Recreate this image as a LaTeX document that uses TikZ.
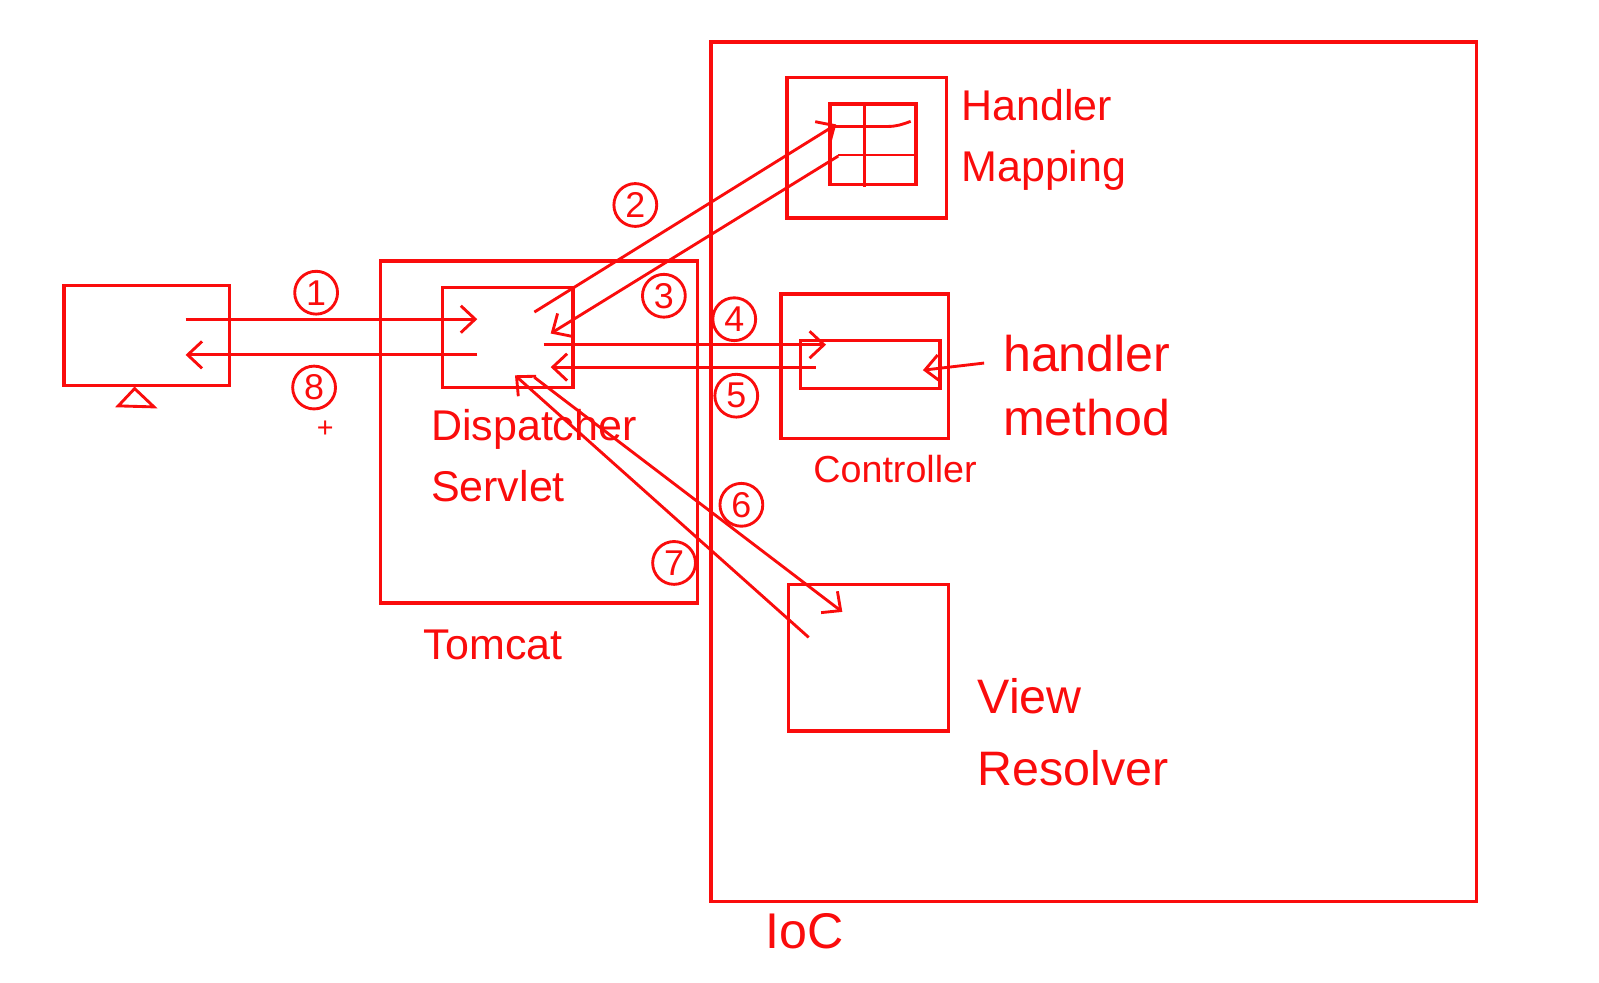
\documentclass[tikz,border=0pt]{standalone}
\usepackage{fontspec}
\setmainfont{Liberation Sans}
\usetikzlibrary{arrows.meta, calc}
\definecolor{ink}{RGB}{250, 12, 12}

\begin{document}
\begin{tikzpicture}[font=\fontsize{12}{17}\selectfont, text=ink,
    box/.style={draw=ink, line width=1pt, rectangle, inner sep=0pt},
    flow/.style={draw=ink, line width=0.8pt, -{Straight Barb[length=4pt,width=7.5pt]}},
    num/.style={draw=ink, line width=0.8pt, circle, minimum size=0.42cm, inner sep=0pt, font=\normalsize},
    lbl/.style={anchor=west, align=left, inner sep=0pt}]
        \useasboundingbox (0,0) rectangle (15.68,-9.63);
        % boxes
        \node[box, minimum width=1.62cm, minimum height=0.98cm] (client) at (1.44,-3.29) {};
        \node[box, minimum width=3.11cm, minimum height=3.35cm] (tomcat) at (5.285,-4.235) {};
        \node[box, minimum width=1.28cm, minimum height=0.98cm] (dispatcher) at (4.98,-3.31) {};
        \node[box, minimum width=7.51cm, minimum height=8.43cm] (ioc) at (10.725,-4.625) {};
        \node[box, minimum width=1.56cm, minimum height=1.38cm] (mapping) at (8.50,-1.45) {};
        \node[box, minimum width=0.84cm, minimum height=0.79cm] (table) at (8.56,-1.415) {};
        \node[box, minimum width=1.64cm, minimum height=1.42cm] (controller) at (8.48,-3.59) {};
        \node[box, minimum width=1.37cm, minimum height=0.47cm] (method) at (8.535,-3.575) {};
        \node[box, minimum width=1.57cm, minimum height=1.44cm] (resolver) at (8.515,-6.45) {};
        % monitor stand
        \draw[ink, line width=0.8pt] (1.32,-3.81) -- (1.16,-3.98) -- (1.51,-3.99) -- cycle;
        % table grid
        \draw[ink, line width=0.8pt] (8.48,-1.02) -- (8.48,-1.83);
        \draw[ink, line width=0.8pt] (8.19,-1.24) -- (8.70,-1.24) to[out=0, in=200] (8.93,-1.19);
        \draw[ink, line width=0.8pt] (8.22,-1.52) -- (8.98,-1.52);
        % arrow ends
        \coordinate (a1) at (1.82,-3.13);   \coordinate (b1) at (4.68,-3.13);
        \coordinate (a2) at (5.24,-3.06);   \coordinate (b2) at (8.20,-1.22);
        \coordinate (a3) at (8.22,-1.53);   \coordinate (b3) at (5.40,-3.27);
        \coordinate (a4) at (5.33,-3.38);   \coordinate (b4) at (8.10,-3.38);
        \coordinate (a5) at (8.00,-3.60);   \coordinate (b5) at (5.40,-3.60);
        \coordinate (a6) at (5.24,-3.70);   \coordinate (b6) at (8.26,-6.00);
        \coordinate (a7) at (7.93,-6.25);   \coordinate (b7) at (5.05,-3.68);
        \coordinate (a8) at (4.68,-3.48);   \coordinate (b8) at (1.82,-3.48);
        \coordinate (hm) at (9.65,-3.56);   \coordinate (mtip) at (9.05,-3.63);
        \foreach \n in {1,...,8}
            \draw[flow] (a\n) -- (b\n);
        \draw[flow] (hm) -- (mtip);
        % step numbers
        \foreach \n/\x/\y in {1/3.10/-2.87, 2/6.23/-2.01, 3/6.51/-2.90, 4/7.20/-3.13,
                              5/7.22/-3.88, 6/7.27/-4.95, 7/6.61/-5.52, 8/3.08/-3.80}
            \node[num] (n\n) at (\x,\y) {\n};
        \node[font=\footnotesize, inner sep=0pt] (cursor) at (3.19,-4.21) {+};
        % labels
        \node[lbl] (mappingtext) at (9.42,-1.37) {Handler\\Mapping};
        \node[lbl, font=\fontsize{14}{18}\selectfont] (methodtext) at (9.83,-3.78) {handler\\method};
        \node[lbl, font=\fontsize{10.5}{14}\selectfont] (controllertext) at (7.97,-4.60) {Controller};
        \node[lbl] (dispatchertext) at (4.22,-4.47) {Dispatcher\\Servlet};
        \node[lbl] (tomcattext) at (4.15,-6.32) {Tomcat};
        \node[lbl, font=\fontsize{13.5}{20}\selectfont] (resolvertext) at (9.58,-7.18) {View\\Resolver};
        \node[lbl, font=\fontsize{14}{18}\selectfont] (ioctext) at (7.50,-9.13) {IoC};
\end{tikzpicture}
\end{document}
